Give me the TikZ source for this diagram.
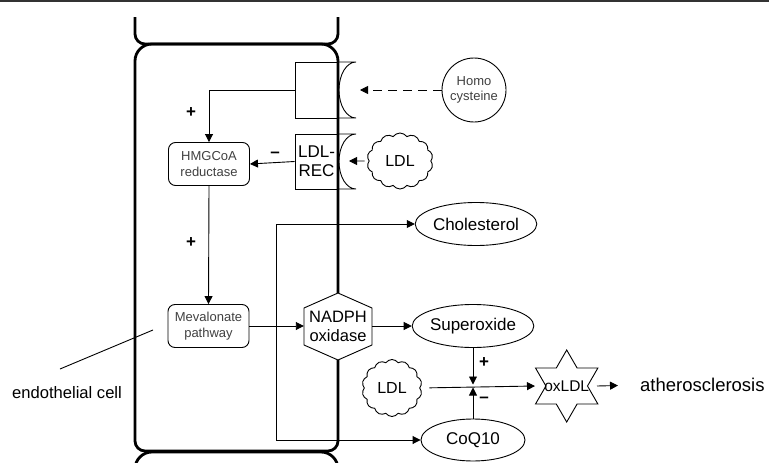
\documentclass[tikz,border=0pt]{standalone}
\usepackage{fontspec}
\setmainfont{Liberation Sans}
\usetikzlibrary{arrows.meta,shapes.geometric,shapes.symbols,calc}
\definecolor{txtgray}{gray}{0.25}
\tikzset{
  wall/.style={line width=2.8pt, line join=round},
  thinline/.style={line width=0.9pt},
  arr/.style={thinline, -{Triangle[length=8pt,width=8pt]}},
  box/.style={draw, thinline, rounded corners=7pt, minimum width=81pt, minimum height=43pt,
    align=center, text=txtgray, font=\fontsize{13}{15.5}\selectfont, inner sep=0pt},
  oval/.style={draw, thinline, ellipse, minimum width=104pt, minimum height=43pt,
    font=\fontsize{17}{20}\selectfont, inner sep=0pt},
  ldlcloud/.style={draw, thinline, cloud, cloud puffs=14, cloud puff arc=110, cloud ignores aspect,
    minimum width=66pt, minimum height=56pt, font=\fontsize{16}{19}\selectfont, inner sep=0pt},
  sign/.style={font=\fontsize{17}{19}\selectfont\bfseries, inner sep=0pt},
  recbox/.style={draw, thinline, minimum width=43pt, inner sep=0pt, align=center,
    font=\fontsize{17}{18.6}\selectfont},
  plain/.style={inner sep=0pt, align=center},
}
\begin{document}
\begin{tikzpicture}[x=1pt,y=-1pt]
\clip (0,0) rectangle (769,463);
% top rule
\draw[line width=2pt, black!80] (0,1) -- (769,1);
% cells
\draw[wall] (135,17) [rounded corners=10pt] -- (135,44) -- (338,44) -- (338,17);
\draw[wall] (135,250) [rounded corners=17pt] -- (135,44) -- (338,44) -- (338,250)
  [rounded corners=10pt] -- (338,451) -- (135,451) -- cycle;
\draw[wall] (135,480) [rounded corners=17pt] -- (135,452) -- (338,452) -- (338,480);
% receptors
\node[recbox, minimum height=56pt] (hcyrec) at (316.5,90) {};
\draw[thinline] (338,62) -- (356,62) .. controls (346.6,62) and (339,74.5) .. (339,90)
  .. controls (339,105.5) and (346.6,118) .. (356,118) -- (338,118);
\node[recbox, minimum height=55pt] (ldlrec) at (316.5,161.5) {LDL-\\REC};
\draw[thinline] (338,134) -- (356,134) .. controls (346.6,134) and (339,146) .. (339,161.5)
  .. controls (339,177) and (346.6,189) .. (356,189) -- (338,189);
% outside
\node[draw, thinline, circle, minimum size=64pt, plain, text=txtgray,
  font=\fontsize{13}{15}\selectfont] (hcy) at (474,90) {Homo\\cysteine};
\coordinate (hcytip) at (360,90);
\draw[arr, dashed, dash pattern=on 9pt off 6pt] (hcy.west) -- (hcytip);
\node[ldlcloud] (ldl1) at (400,161) {LDL};
\coordinate (ldltip) at (349,161);
\draw[arr, shorten <=4pt] (ldl1.west) -- (ldltip);
% inside
\node[box] (hmg) at (209,164) {HMGCoA\\reductase};
\node[box] (meva) at (208.5,326) {Mevalonate\\pathway};
\draw[arr] (hcyrec.west) -| (hmg.north);
\node[sign] (p1) at (191,113) {+};
\draw[arr] (ldlrec.west) -- (hmg.east);
\node[sign] (m1) at (275,155) {–};
\draw[arr] (hmg.south) -- (meva.north);
\node[sign] (p2) at (191,243) {+};
% NADPH oxidase
\coordinate (nc) at (338,326);
\draw[thinline, fill=white] (338,293) -- (372,308) -- (372,345) -- (338,360) -- (304,345) -- (304,308) -- cycle;
\node[plain, minimum width=68pt, minimum height=37pt, font=\fontsize{16.5}{19}\selectfont] (nadph) at (nc) {NADPH\\oxidase};
\draw[arr] (meva.east) -- (nadph.west);
% right side
\node[oval] (chol) at (476,224) {Cholesterol};
\node[oval] (supox) at (473,326) {Superoxide};
\node[oval, minimum height=42pt] (coq) at (473,440) {CoQ10};
\coordinate (corner) at (276,224);
\draw[arr] (corner) -- (chol.west);
\draw[arr] (corner) |- (coq.west);
\draw[arr] (nadph.east) -- (supox.west);
\node[ldlcloud, minimum width=60pt, minimum height=57pt] (ldl2) at (392,388) {LDL};
\coordinate (jx) at (473,386);
\draw[arr, shorten >=1.5pt] (supox.south) -- (jx);
\draw[arr, shorten >=1.5pt] (coq.north) -- (jx);
\node[sign] (p3) at (484,363) {+};
\node[sign] (m2) at (484,400) {–};
% oxLDL star
\node[plain, font=\fontsize{15.5}{18}\selectfont] (ox) at (566.7,386) {oxLDL};
\draw[thinline] ($(ox)+(90:36)$) -- ($(ox)+(120:20.8)$) -- ($(ox)+(150:36)$) -- ($(ox)+(180:20.8)$)
  -- ($(ox)+(210:36)$) -- ($(ox)+(240:20.8)$) -- ($(ox)+(270:36)$) -- ($(ox)+(300:20.8)$)
  -- ($(ox)+(330:36)$) -- ($(ox)+(0:20.8)$) -- ($(ox)+(30:36)$) -- ($(ox)+(60:20.8)$) -- cycle;
\coordinate (oxW) at (535,386);
\coordinate (oxE) at (597,386);
\draw[arr, shorten <=9pt] (ldl2.east) -- (oxW);
\node[plain, anchor=west, font=\fontsize{18.5}{22}\selectfont] (ath) at (640,385) {atherosclerosis};
\draw[arr, shorten >=22pt] (oxE) -- (ath.west);
% label
\node[plain, font=\fontsize{16.6}{20}\selectfont] (endo) at (67,393) {endothelial cell};
\coordinate (ptrS) at (60,369);
\coordinate (ptrE) at (153,330);
\draw[thinline] (ptrS) -- (ptrE);
\end{tikzpicture}
\end{document}
